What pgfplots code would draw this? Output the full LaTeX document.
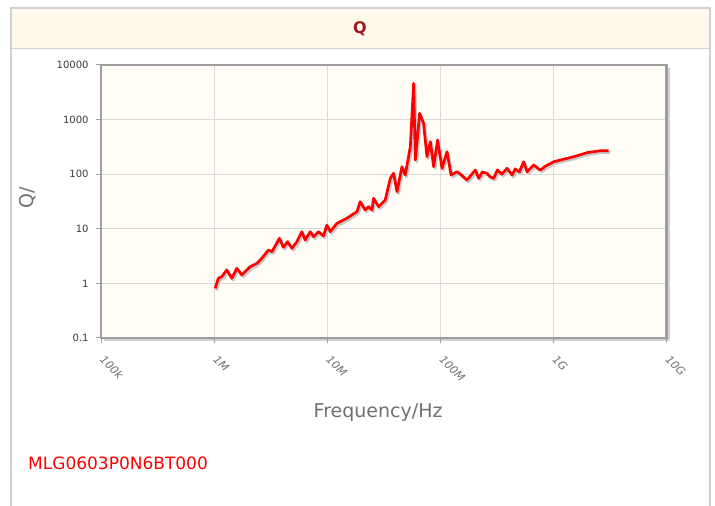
\documentclass[border=0pt]{standalone}
\usepackage{pgfplots}
\pgfplotsset{compat=1.18}
\usepackage{fontspec}
\setmainfont{DejaVu Sans}
\definecolor{hdrbg}{HTML}{FFF9EC}
\definecolor{plotbg}{HTML}{FFFDF6}
\definecolor{cardline}{HTML}{D0D0D0}
\definecolor{titlered}{HTML}{9B1B1B}
\definecolor{axisgray}{HTML}{9E9E9E}
\definecolor{gridgray}{HTML}{D9D9D9}
\definecolor{labgray}{HTML}{707070}
\definecolor{tickgray}{HTML}{3A3A3A}
\pgfplotstableread{
f Q
1.021e6 0.81
1.091e6 1.24
1.169e6 1.33
1.294e6 1.76
1.435e6 1.24
1.589e6 1.89
1.758e6 1.43
2.084e6 2.02
2.388e6 2.33
2.642e6 2.88
3.027e6 4.09
3.243e6 3.81
3.784e6 6.70
4.102e6 4.58
4.457e6 5.81
4.875e6 4.39
5.395e6 5.81
5.970e6 8.85
6.383e6 6.23
7.079e6 8.85
7.568e6 7.16
8.375e6 8.85
9.268e6 7.38
9.931e6 11.7
1.064e7 8.85
1.219e7 12.6
1.493e7 15.6
1.832e7 20.6
1.959e7 31.3
2.168e7 22.1
2.317e7 25.4
2.489e7 22.1
2.570e7 36.2
2.844e7 25.4
3.258e7 33.7
3.614e7 84.1
3.864e7 104
4.140e7 47.8
4.581e7 137
4.898e7 96.6
5.433e7 319
5.808e7 4620
6.012e7 182
6.561e7 1300
7.112e7 855
7.621e7 209
8.166e7 394
8.730e7 137
9.462e7 423
1.035e8 128
1.146e8 258
1.245e8 96.6
1.406e8 111
1.55e8 95
1.722e8 78.3
1.9e8 100
2.042e8 119
2.183e8 84.1
2.35e8 110
2.588e8 104
2.75e8 90
2.965e8 84.1
3.2e8 120
3.5e8 100
3.890e8 128
4.315e8 96.6
4.6e8 125
5.0e8 110
5.458e8 169
5.848e8 111
6.699e8 147
7.674e8 119
8.5e8 140
1.007e9 169
1.233e9 188
1.514e9 209
1.986e9 248
2.606e9 269
3.083e9 269
}\qdata
\begin{document}
\begin{tikzpicture}
\path[use as bounding box] (0,0) rectangle (715pt,506pt);
\fill[white] (0,0) rectangle (715pt,506pt);
% card header
\fill[hdrbg] (11pt,457pt) rectangle (710pt,498pt);
\draw[cardline, line width=1pt] (11pt,457pt) -- (710pt,457pt);
\draw[cardline, line width=1.5pt] (11pt,0pt) -- (11pt,498pt) -- (710pt,498pt) -- (710pt,0pt);
\node[font=\fontsize{16}{16}\selectfont\bfseries, text=titlered] at (360pt,477.5pt) {Q};
% shadow of plot box
\fill[black!18] (104pt,165pt) rectangle (670pt,438pt);
\begin{axis}[
  at={(101pt,168pt)}, anchor=south west,
  scale only axis, width=565.5pt, height=273pt,
  xmode=log, ymode=log,
  xmin=1e5, xmax=1e10, ymin=0.1, ymax=10000,
  xtick={1e5,1e6,1e7,1e8,1e9,1e10},
  xticklabels={100k,1M,10M,100M,1G,10G},
  ytick={0.1,1,10,100,1000,10000},
  yticklabels={0.1,1,10,100,1000,10000},
  xminorticks=false, yminorticks=false,
  tick align=outside, tick pos=left,
  major tick length=5pt,
  every tick/.style={axisgray, line width=1pt},
  grid=major,
  major grid style={gridgray, line width=1pt},
  axis line style={axisgray, line width=2.5pt},
  axis background/.style={fill=plotbg},
  yticklabel style={font=\fontsize{10}{10}\selectfont, text=tickgray, xshift=-4pt},
  xticklabel style={font=\fontsize{11}{11}\selectfont\itshape, text=labgray, rotate=-45, anchor=north west, xshift=10pt, yshift=-4pt, inner sep=1pt},
  xlabel={Frequency/Hz},
  xlabel style={font=\fontsize{19}{19}\selectfont, text=labgray, at={(axis description cs:0.49,-0.272)}, anchor=center},
  clip=true,
]
\addplot[black!22, line width=2.5pt, line join=round, transform canvas={xshift=1.5pt,yshift=-2pt}] table {\qdata};
\addplot[red, line width=2.7pt, line join=round] table {\qdata};
\end{axis}
\node[font=\fontsize{19}{19}\selectfont, text=labgray, rotate=90] at (28pt,308pt) {Q/};
\node[font=\fontsize{17}{17}\selectfont, text=red, anchor=base west, inner sep=0pt] at (28pt,36.5pt) {MLG0603P0N6BT000};
\end{tikzpicture}
\end{document}
